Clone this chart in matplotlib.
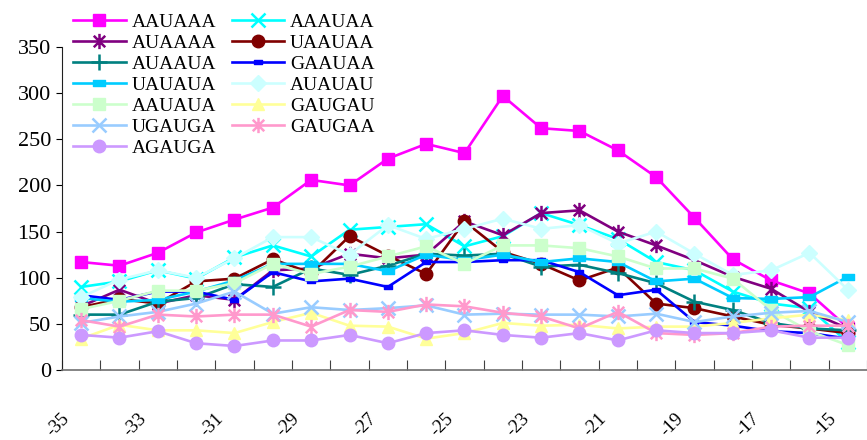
import matplotlib
matplotlib.use("Agg")
import matplotlib.pyplot as plt
from matplotlib.path import Path
from matplotlib.transforms import ScaledTranslation

plt.rcParams['font.family'] = ['Liberation Serif', 'DejaVu Serif']

positions = list(range(-35, -14))  # -35 .. -15
tick_labels = [str(p) for p in positions]

AAUAAA = [117, 113, 127, 149, 163, 176, 206, 200, 229, 245, 235, 297, 262, 259, 238, 209, 165, 120, 97, 83, 46]
AAAUAA = [90, 96, 108, 99, 122, 135, 123, 152, 155, 158, 134, 145, 170, 157, 142, 117, 108, 85, 72, 67, 30]
AUAAAA = [69, 87, 72, 81, 76, 108, 110, 126, 121, 125, 161, 146, 170, 173, 150, 135, 119, 101, 88, 63, 45]
UAAUAA = [68, 77, 72, 96, 99, 120, 105, 145, 124, 104, 161, 128, 115, 97, 111, 72, 67, 58, 49, 45, 40]
AUAAUA = [60, 60, 74, 78, 93, 90, 110, 103, 113, 126, 124, 126, 112, 114, 105, 94, 74, 65, 51, 45, 43]
GAAUAA = [81, 76, 85, 85, 76, 106, 96, 99, 90, 117, 117, 119, 119, 106, 81, 87, 52, 48, 42, 40, 34]
UAUAUA = [78, 74, 76, 85, 97, 115, 115, 115, 107, 125, 119, 125, 117, 121, 117, 96, 99, 78, 77, 79, 101]
AUAUAU = [79, 98, 108, 100, 121, 144, 144, 125, 157, 142, 153, 164, 153, 157, 137, 150, 126, 103, 108, 127, 87]
AAUAUA = [66, 75, 86, 86, 94, 115, 104, 112, 123, 134, 115, 135, 135, 132, 123, 110, 110, 99, 65, 42, 27]
GAUGAU = [34, 49, 43, 43, 40, 52, 62, 48, 47, 34, 40, 51, 48, 49, 45, 47, 47, 51, 56, 60, 54]
UGAUGA = [51, 58, 63, 72, 85, 61, 68, 65, 67, 70, 60, 61, 60, 60, 58, 61, 52, 58, 62, 64, 52]
GAUGAA = [54, 47, 60, 58, 60, 60, 47, 65, 63, 71, 69, 62, 58, 45, 63, 40, 38, 40, 47, 48, 48]
AGAUGA = [38, 35, 42, 29, 26, 32, 32, 38, 29, 40, 43, 38, 35, 40, 32, 43, 40, 40, 43, 35, 35]

star = Path([(0, -1), (0, 1), (-0.75, -0.75), (0.75, 0.75), (-0.75, 0.75), (0.75, -0.75)],
            [Path.MOVETO, Path.LINETO, Path.MOVETO, Path.LINETO, Path.MOVETO, Path.LINETO])
dash = Path([(-1, -0.45), (1, -0.45), (1, 0.45), (-1, 0.45), (-1, -0.45)],
            [Path.MOVETO, Path.LINETO, Path.LINETO, Path.LINETO, Path.CLOSEPOLY])

# (name, values, color, marker, size, filled)
series = [
    ("AAUAAA", AAUAAA, "#FF00FF", "s", 9, True),
    ("AAAUAA", AAAUAA, "#00FFFF", "x", 10, False),
    ("AUAAAA", AUAAAA, "#800080", star, 11, False),
    ("UAAUAA", UAAUAA, "#800000", "o", 9, True),
    ("AUAAUA", AUAAUA, "#008080", "+", 11, False),
    ("GAAUAA", GAAUAA, "#0000FF", dash, 6, True),
    ("UAUAUA", UAUAUA, "#00CCFF", dash, 9, True),
    ("AUAUAU", AUAUAU, "#CCFFFF", "D", 8, True),
    ("AAUAUA", AAUAUA, "#CCFFCC", "s", 9, True),
    ("GAUGAU", GAUGAU, "#FFFF99", "^", 9, True),
    ("UGAUGA", UGAUGA, "#99CCFF", "x", 10, False),
    ("GAUGAA", GAUGAA, "#FF99CC", star, 11, False),
    ("AGAUGA", AGAUGA, "#CC99FF", "o", 9, True),
]

fig = plt.figure(figsize=(8.67, 4.40), dpi=100)
ax = fig.add_axes([62 / 867, 1 - 370 / 440, 805 / 867, 323 / 440])

xs = list(range(len(positions)))
handles = {}
for name, vals, col, mk, ms, filled in series:
    kw = dict(color=col, lw=1.9, marker=mk, markersize=ms, clip_on=False)
    if filled:
        kw.update(markerfacecolor=col, markeredgecolor=col, markeredgewidth=1)
    else:
        kw.update(markeredgecolor=col, markeredgewidth=1.8)
    ln, = ax.plot(xs, vals, label=name, **kw)
    handles[name] = ln

ax.set_xlim(-0.5, len(positions) - 0.5)
ax.set_ylim(0, 350)
ax.set_yticks(range(0, 351, 50))
ax.tick_params(axis='y', direction='out', length=4, width=0.8, labelsize=16, pad=4, colors='black')

ax.set_xticks(xs[::2])
ax.set_xticklabels(tick_labels[::2], rotation=45, ha='right', va='top', fontsize=13.5)
ax.set_xticks([x - 0.5 for x in xs] + [xs[-1] + 0.5], minor=True)
ax.tick_params(axis='x', which='major', length=0, pad=29)
ax.tick_params(axis='x', which='minor', direction='in', length=7, width=0.8, color='#404040')
for lab in ax.get_xticklabels():
    lab.set_transform(lab.get_transform() + ScaledTranslation(-8 / 100, 0, fig.dpi_scale_trans))

for s in ['top', 'right']:
    ax.spines[s].set_visible(False)
ax.spines['left'].set_color('#202020')
ax.spines['left'].set_linewidth(0.8)
ax.spines['bottom'].set_color('#707070')
ax.spines['bottom'].set_linewidth(1.2)

order = ["AAUAAA", "AUAAAA", "AUAAUA", "UAUAUA", "AAUAUA", "UGAUGA", "AGAUGA",
         "AAAUAA", "UAAUAA", "GAAUAA", "AUAUAU", "GAUGAU", "GAUGAA"]
fig.legend([handles[n] for n in order], order, ncol=2, loc='upper left',
           bbox_to_anchor=(73 / 867, 1 - 13 / 440), frameon=False, fontsize=14,
           borderpad=0, borderaxespad=0, handlelength=2.7, handletextpad=0.3,
           columnspacing=0.8, labelspacing=0.18)

fig.savefig("out.png", dpi=100)
